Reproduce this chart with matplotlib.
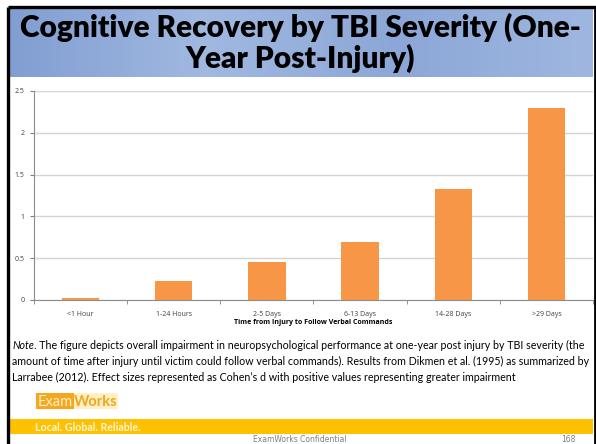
import matplotlib
matplotlib.use("Agg")
import matplotlib.pyplot as plt
import numpy as np
from matplotlib.patches import Rectangle
from matplotlib.ticker import FixedLocator
from matplotlib.colors import LinearSegmentedColormap

categories = ["<1 Hour", "1-24 Hours", "2-5 Days", "6-13 Days", "14-28 Days", ">29 Days"]
effect_sizes = [0.02, 0.23, 0.45, 0.69, 1.33, 2.30]
y_ticks = [0, 0.5, 1, 1.5, 2, 2.5]
y_tick_labels = ["0", "0.5", "1", "1.5", "2", "2.5"]

title_line1 = "Cognitive Recovery by TBI Severity (One-"
title_line2 = "Year Post-Injury)"
x_label = "Time from Injury to Follow Verbal Commands"
note_lines = [
    "The figure depicts overall impairment in neuropsychological performance at one-year post injury by TBI severity (the",
    "amount of time after injury until victim could follow verbal commands). Results from Dikmen et al. (1995) as summarized by",
    "Larrabee (2012). Effect sizes represented as Cohen\u2019s d with positive values representing greater impairment",
]

W, H = 596, 444
plt.rcParams['font.family'] = ['Lato', 'DejaVu Sans']
fig = plt.figure(figsize=(W / 100, H / 100), dpi=100)
fig.patch.set_facecolor("white")

bg = fig.add_axes([0, 0, 1, 1])
bg.set_xlim(0, W)
bg.set_ylim(H, 0)
bg.axis("off")

# title band gradient
grad = np.linspace(0, 1, 256).reshape(1, -1)
cmap = LinearSegmentedColormap.from_list("b", ["#819ED2", "#A1B9E1", "#8CA7D7", "#9FB7E0"])
bg.imshow(grad, extent=[9, 593, 77, 9], aspect="auto", cmap=cmap, zorder=0)
bg.text(300, 27, title_line1, ha="center", va="center",
        fontsize=21.5, fontweight="heavy", color="black", zorder=3)
bg.text(300, 58, title_line2, ha="center", va="center",
        fontsize=21.5, fontweight="heavy", color="black", zorder=3)

# frame
bg.plot([7.5, 7.5], [7.5, H], color="black", lw=2.4, zorder=5, solid_capstyle="butt")
bg.plot([7.5, W], [7.5, 7.5], color="black", lw=2.4, zorder=5, solid_capstyle="butt")
bg.plot([594.5, 594.5], [7.5, H], color="black", lw=2.0, zorder=5, solid_capstyle="butt")

# note text
fs_note = 7.7
y0 = 349
t_note = bg.text(12, y0, "Note", style="italic", fontsize=fs_note, va="baseline", ha="left", color="black")
bg.annotate(". " + note_lines[0], xy=(1, 0), xycoords=t_note, fontsize=fs_note,
            va="bottom", ha="left", color="black")
bg.text(12, y0 + 16, note_lines[1], fontsize=fs_note, va="baseline", ha="left", color="black")
bg.text(12, y0 + 32, note_lines[2], fontsize=fs_note, va="baseline", ha="left", color="black")

# logo
bg.add_patch(Rectangle((36, 393), 38, 16, facecolor="#F5A71E", edgecolor="none"))
bg.add_patch(Rectangle((74, 393), 44, 16, facecolor="#FFF1C2", edgecolor="none"))
bg.text(55, 401.5, "Exam", ha="center", va="center", fontsize=10.5, color="#FFF0C8")
bg.text(96, 401.5, "Works", ha="center", va="center", fontsize=10.5, color="#F2A51E", fontweight="bold")

# footer band
bg.add_patch(Rectangle((9, 419), 584, 15, facecolor="#FFC000", edgecolor="none"))
bg.text(35, 427, "Local. Global. Reliable.", ha="left", va="center", fontsize=7.7,
        fontweight="bold", color="#FFF6D8")
bg.text(300, 439.5, "ExamWorks Confidential", ha="center", va="center", fontsize=5.5, color="#7F7F7F",
        family="DejaVu Sans")
bg.text(568, 439.5, "168", ha="center", va="center", fontsize=5.5, color="#7F7F7F", family="DejaVu Sans")

# chart
ax = fig.add_axes([34 / W, 1 - 300 / H, 559 / W, 209 / H])
x = np.arange(len(categories))
ax.bar(x, effect_sizes, width=0.4, color="#F79646", zorder=3)
ax.set_xlim(-0.5, len(categories) - 0.5)
ax.set_ylim(0, 2.5)
ax.set_yticks(y_ticks)
ax.set_yticklabels(y_tick_labels, family="Open Sans")
ax.set_xticks(x)
ax.set_xticklabels(categories, family="Open Sans")
ax.xaxis.set_minor_locator(FixedLocator(np.arange(-0.5, len(categories), 1.0)))
ax.tick_params(axis="x", which="major", length=0, labelsize=5, colors="#404040", pad=8)
ax.tick_params(axis="x", which="minor", length=3, color="#808080", direction="out")
ax.tick_params(axis="y", length=3, color="#808080", labelsize=5, colors="#404040", pad=4)
ax.grid(axis="y", color="#D4D4D4", lw=1.0, zorder=0)
for s in ["top", "right"]:
    ax.spines[s].set_visible(False)
ax.spines["left"].set_color("#8C8C8C")
ax.spines["bottom"].set_color("#8C8C8C")
ax.set_xlabel(x_label, fontsize=5, fontweight="bold", color="black", labelpad=1, family="Open Sans")
ax.set_facecolor("none")

fig.savefig("out.png", dpi=100)
